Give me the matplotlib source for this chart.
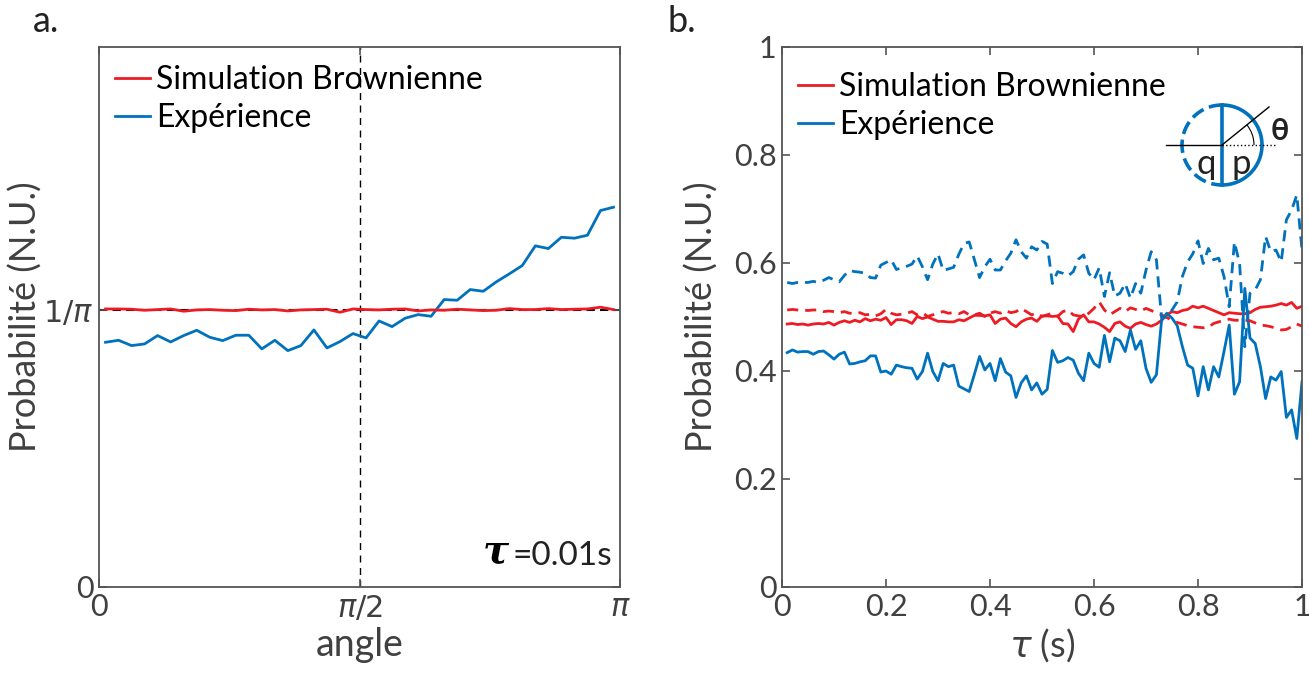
import numpy as np
import matplotlib
matplotlib.use("Agg")
import matplotlib.pyplot as plt
from matplotlib.patches import Arc

plt.rcParams['font.family'] = ['Lato', 'DejaVu Sans']
plt.rcParams['mathtext.fontset'] = 'dejavusans'

rouge = '#ED1C24'; bleu = '#0072BD'; gris = '#404040'

# --- panel a : distribution angulaire (40 bins sur [0, pi])
nbins = 40
p_sim_a = [0.3195, 0.3195, 0.3192, 0.3180, 0.3188, 0.3195, 0.3169, 0.3184, 0.3188, 0.3180,
           0.3176, 0.3192, 0.3184, 0.3188, 0.3172, 0.3184, 0.3188, 0.3192, 0.3157, 0.3195,
           0.3188, 0.3184, 0.3192, 0.3195, 0.3172, 0.3184, 0.3180, 0.3192, 0.3184, 0.3176,
           0.3180, 0.3199, 0.3188, 0.3188, 0.3199, 0.3188, 0.3192, 0.3195, 0.3215, 0.3188]
p_exp_a = [0.2812, 0.2835, 0.2774, 0.2793, 0.2889, 0.2816, 0.2889, 0.2950, 0.2870, 0.2831,
           0.2893, 0.2893, 0.2736, 0.2835, 0.2716, 0.2774, 0.2954, 0.2747, 0.2820, 0.2912,
           0.2862, 0.3057, 0.2992, 0.3088, 0.3130, 0.3111, 0.3303, 0.3295, 0.3418, 0.3398,
           0.3506, 0.3598, 0.3694, 0.3920, 0.3889, 0.4019, 0.4008, 0.4042, 0.4326, 0.4364]

# --- panel b : probabilites en fonction de tau (0.01 .. 1.00)
tau = np.arange(1, 101) * 0.01
p_sim_p = [0.487, 0.488, 0.486, 0.487, 0.485, 0.487, 0.488, 0.487, 0.490, 0.485,
           0.490, 0.493, 0.490, 0.494, 0.491, 0.497, 0.493, 0.496, 0.494, 0.499,
           0.486, 0.495, 0.495, 0.493, 0.488, 0.501, 0.497, 0.500, 0.496, 0.492,
           0.492, 0.491, 0.491, 0.495, 0.493, 0.498, 0.503, 0.503, 0.502, 0.504,
           0.488, 0.496, 0.498, 0.488, 0.482, 0.491, 0.496, 0.498, 0.492, 0.502,
           0.502, 0.501, 0.502, 0.488, 0.487, 0.473, 0.496, 0.504, 0.491, 0.491,
           0.487, 0.481, 0.473, 0.488, 0.491, 0.483, 0.479, 0.487, 0.490, 0.486,
           0.483, 0.487, 0.494, 0.504, 0.510, 0.508, 0.512, 0.514, 0.520, 0.517,
           0.520, 0.516, 0.512, 0.508, 0.504, 0.508, 0.507, 0.506, 0.506, 0.508,
           0.514, 0.518, 0.519, 0.520, 0.522, 0.525, 0.522, 0.527, 0.516, 0.520]
p_sim_q = [0.513, 0.514, 0.513, 0.513, 0.512, 0.513, 0.513, 0.510, 0.511, 0.510,
           0.508, 0.510, 0.507, 0.506, 0.508, 0.504, 0.505, 0.502, 0.506, 0.514,
           0.507, 0.504, 0.505, 0.507, 0.510, 0.504, 0.508, 0.501, 0.504, 0.508,
           0.510, 0.507, 0.508, 0.506, 0.510, 0.504, 0.504, 0.507, 0.501, 0.507,
           0.510, 0.507, 0.512, 0.508, 0.510, 0.516, 0.510, 0.504, 0.507, 0.501,
           0.504, 0.507, 0.501, 0.510, 0.513, 0.504, 0.502, 0.501, 0.507, 0.516,
           0.528, 0.513, 0.504, 0.510, 0.516, 0.510, 0.517, 0.514, 0.511, 0.516,
           0.512, 0.508, 0.504, 0.499, 0.494, 0.490, 0.487, 0.484, 0.482, 0.481,
           0.480, 0.481, 0.488, 0.491, 0.494, 0.496, 0.494, 0.494, 0.494, 0.493,
           0.489, 0.485, 0.484, 0.482, 0.479, 0.476, 0.477, 0.482, 0.487, 0.483]
p_exp_p = [0.434, 0.439, 0.435, 0.436, 0.436, 0.431, 0.436, 0.437, 0.430, 0.422,
           0.431, 0.435, 0.413, 0.414, 0.417, 0.419, 0.428, 0.428, 0.398, 0.400,
           0.394, 0.411, 0.408, 0.406, 0.405, 0.385, 0.399, 0.433, 0.399, 0.382,
           0.414, 0.408, 0.411, 0.372, 0.367, 0.362, 0.394, 0.427, 0.402, 0.414,
           0.382, 0.423, 0.398, 0.391, 0.351, 0.378, 0.391, 0.365, 0.378, 0.357,
           0.366, 0.438, 0.416, 0.419, 0.425, 0.420, 0.396, 0.382, 0.433, 0.414,
           0.407, 0.466, 0.417, 0.461, 0.456, 0.436, 0.476, 0.440, 0.456, 0.405,
           0.379, 0.393, 0.494, 0.507, 0.498, 0.484, 0.445, 0.411, 0.405, 0.354,
           0.408, 0.365, 0.408, 0.389, 0.436, 0.485, 0.357, 0.380, 0.553, 0.461,
           0.451, 0.408, 0.349, 0.389, 0.383, 0.399, 0.314, 0.328, 0.275, 0.380]
p_exp_q = [0.564, 0.562, 0.564, 0.564, 0.564, 0.566, 0.564, 0.568, 0.573, 0.569,
           0.565, 0.577, 0.586, 0.584, 0.583, 0.581, 0.573, 0.572, 0.596, 0.601,
           0.606, 0.588, 0.591, 0.594, 0.598, 0.613, 0.593, 0.569, 0.598, 0.617,
           0.586, 0.589, 0.592, 0.616, 0.636, 0.639, 0.606, 0.573, 0.593, 0.607,
           0.587, 0.587, 0.604, 0.618, 0.643, 0.621, 0.609, 0.630, 0.624, 0.640,
           0.635, 0.562, 0.584, 0.581, 0.576, 0.584, 0.607, 0.615, 0.581, 0.569,
           0.591, 0.538, 0.582, 0.539, 0.544, 0.562, 0.535, 0.562, 0.544, 0.587,
           0.621, 0.606, 0.498, 0.501, 0.513, 0.528, 0.575, 0.602, 0.617, 0.641,
           0.599, 0.627, 0.606, 0.609, 0.575, 0.519, 0.639, 0.599, 0.445, 0.544,
           0.550, 0.569, 0.649, 0.621, 0.624, 0.602, 0.680, 0.698, 0.726, 0.624]

fig = plt.figure(figsize=(13.09, 6.75), dpi=100)
axa = fig.add_axes([99/1309, 88/675, 521/1309, 540/675])
axb = fig.add_axes([782/1309, 88/675, 520/1309, 540/675])

def style(ax):
    for s in ax.spines.values():
        s.set_color('#555555'); s.set_linewidth(1.3)
    ax.tick_params(direction='in', top=True, right=True, length=6, width=1.2,
                   colors='#555555', labelcolor=gris, labelsize=22, pad=4)

# panel a
theta = (np.arange(nbins) + 0.5) * np.pi / nbins
axa.axhline(1/np.pi, color='k', ls='--', lw=1.5, dashes=(4, 2.5), zorder=1)
axa.axvline(np.pi/2, color='k', ls='--', lw=1.0, dashes=(5, 4), zorder=1)
axa.plot(theta, p_sim_a, color=rouge, lw=2, label='Simulation Brownienne', zorder=3)
axa.plot(theta, p_exp_a, color=bleu, lw=2, label='Expérience', zorder=2)
axa.set_xlim(0, np.pi); axa.set_ylim(0, 0.6205)
axa.set_xticks([0, np.pi/2, np.pi]); axa.set_xticklabels(['0', r'$\pi/2$', r'$\pi$'])
axa.set_yticks([0, 1/np.pi]); axa.set_yticklabels(['0', r'$1/\pi$'])
style(axa)
axa.set_xlabel('angle', fontsize=27, color=gris, labelpad=4)
axa.set_ylabel('Probabilité (N.U.)', fontsize=26, color=gris)
axa.yaxis.set_label_coords(-0.108, 0.5)
axa.legend(loc='upper left', bbox_to_anchor=(0.03, 0.966), frameon=False, fontsize=23,
           handlelength=1.1, handletextpad=0.2, labelspacing=0.24, borderpad=0, borderaxespad=0)
axa.text(0.737, 0.03, 'τ', transform=axa.transAxes, fontsize=28, fontstyle='italic',
         fontweight='bold', color='k', family='DejaVu Serif', ha='left', va='bottom')
axa.text(0.985, 0.03, '=0.01s', transform=axa.transAxes, fontsize=24, color='#222222',
         ha='right', va='bottom')
fig.text(33/1309, 1 - 22/675, 'a.', fontsize=26, color='#222222', va='center')

# panel b
axb.plot(tau, p_sim_p, color=rouge, lw=2, label='Simulation Brownienne')
axb.plot(tau, p_exp_p, color=bleu, lw=2, label='Expérience')
axb.plot(tau, p_sim_q, color=rouge, lw=2, ls='--', dashes=(4, 2.5))
axb.plot(tau, p_exp_q, color=bleu, lw=2, ls='--', dashes=(4, 2.5))
axb.set_xlim(0, 1); axb.set_ylim(0, 1)
axb.set_xticks(np.arange(0, 1.01, 0.2)); axb.set_yticks(np.arange(0, 1.01, 0.2))
axb.set_xticklabels(['0', '0.2', '0.4', '0.6', '0.8', '1'])
axb.set_yticklabels(['0', '0.2', '0.4', '0.6', '0.8', '1'])
style(axb)
axb.set_xlabel(r'$\tau$ (s)', fontsize=26, color=gris, labelpad=4)
axb.set_ylabel('Probabilité (N.U.)', fontsize=26, color=gris)
axb.yaxis.set_label_coords(-0.121, 0.5)
axb.legend(loc='upper left', bbox_to_anchor=(0.03, 0.953), frameon=False, fontsize=23,
           handlelength=1.1, handletextpad=0.2, labelspacing=0.24, borderpad=0, borderaxespad=0)
fig.text(668/1309, 1 - 22/675, 'b.', fontsize=26, color='#222222', va='center')

# schema p / q en encart
axi = fig.add_axes([1160/1309, (675-190)/675, 125/1309, 90/675])
axi.set_xlim(-62, 63); axi.set_ylim(-45, 45); axi.axis('off')
axi.add_patch(Arc((0, 0), 80, 80, theta1=-90, theta2=90, color=bleu, lw=2.6))
axi.add_patch(Arc((0, 0), 80, 80, theta1=90, theta2=270, color=bleu, lw=2.6, ls='--'))
axi.plot([0, 0], [-40, 40], color=bleu, lw=2.6)
axi.plot([-56, 0], [0, 0], color='k', lw=1)
axi.plot([0, 55], [0, 0], color='k', lw=1, ls=':')
axi.plot([0, 47], [0, 38], color='k', lw=1)
axi.add_patch(Arc((0, 0), 64, 64, theta1=0, theta2=39, color='k', lw=0.8))
axi.text(49, 14, 'θ', fontsize=22, fontweight='bold', color='#222222', va='center', ha='left')
axi.text(-16, -19, 'q', fontsize=25, color='#222222', va='center', ha='center')
axi.text(19, -19, 'p', fontsize=25, color='#222222', va='center', ha='center')

fig.savefig('out.png', dpi=100)
